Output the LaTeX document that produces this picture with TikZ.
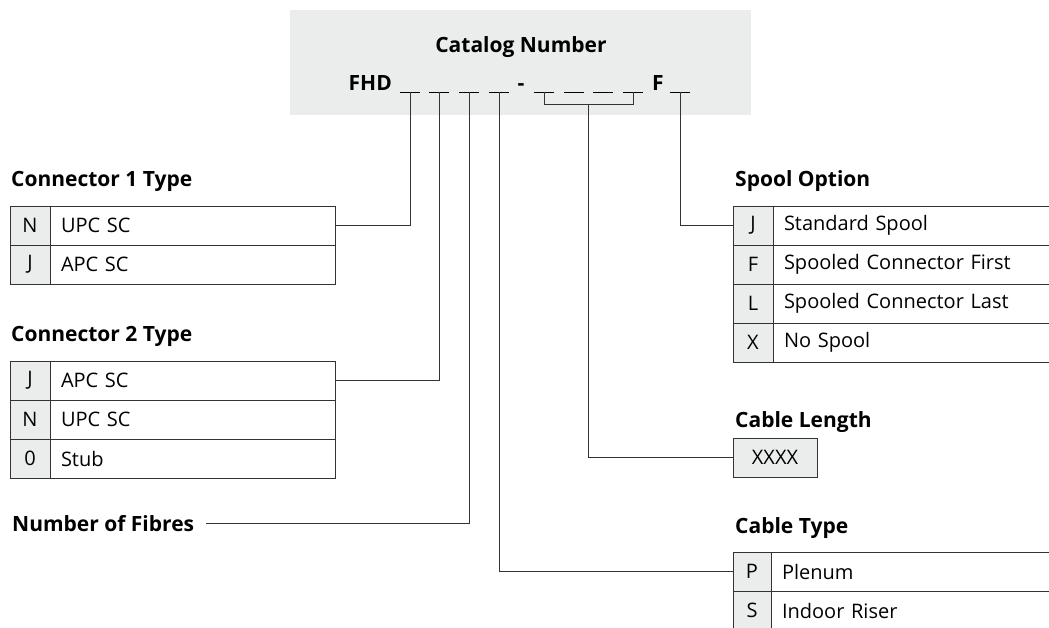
\documentclass[tikz,border=0pt]{standalone}
\usepackage{fontspec}
\setmainfont{Open Sans}
\usetikzlibrary{scopes,chains,calc,positioning}
\definecolor{keygray}{RGB}{235,236,236}
\definecolor{linegray}{RGB}{51,51,51}
\tikzset{
  code schemes/.style = {
    x = 1pt, y = -1pt,
    node distance = 0mm,
    % Ячейки таблиц
    cell/.style = {
      draw=linegray, line width=0.9pt,
      outer sep=0pt, inner sep=0pt,
      minimum height=39pt,
      font=\fontsize{20}{24}\selectfont
    },
    kc/.style      = { cell, fill=keygray, minimum width=40pt, on chain },
    tc/.style      = { cell, inner xsep=11pt, text width=263pt, align=left },
    tc wide/.style = { tc, text width=330pt },
    % Заголовки
    ttl/.style = { font=\bfseries\fontsize{21}{25}\selectfont,
                   inner sep=0pt, anchor=base west },
    hdr/.style = { fill=keygray, minimum width=461pt, minimum height=105pt },
    % Линии
    link line/.style = { line width=0.8pt, draw=linegray },
    blank/.style     = { line width=0.8pt, draw=black },
  }
}

\begin{document}
\begin{tikzpicture}[code schemes]

    \clip (0,0) rectangle (1049,628);

    % Catalog number
    \node [hdr] (cat) at (520.5,62.5) {};
    \node [ttl, anchor=base]      (catnum) at (521,53) {Catalog Number};
    \node [ttl, anchor=base east] (fhd)    at (392,91) {FHD};
    \node [ttl, anchor=base]      (dash)   at (521,91) {-};
    \node [ttl, anchor=base west] (fsuf)   at (652,91) {F};

    { [start chain=conA going below]
        \node [kc, anchor=north west] at (10,206) {N};
        \node [kc] {J};
    }
    \node [tc, right=of conA-1] (conA-t1) {UPC SC};
    \node [tc, right=of conA-2] (conA-t2) {APC SC};
    \node [ttl] at ($(conA-1.north west)+(1,-19)$) {Connector 1 Type};

    { [start chain=conB going below]
        \node [kc, anchor=north west] at (10,361) {J};
        \node [kc] {N};
        \node [kc] {0};
    }
    \node [tc, right=of conB-1] (conB-t1) {APC SC};
    \node [tc, right=of conB-2] (conB-t2) {UPC SC};
    \node [tc, right=of conB-3] (conB-t3) {Stub};
    \node [ttl] at ($(conB-1.north west)+(1,-20)$) {Connector 2 Type};

    \node [ttl, inner xsep=12pt] (fib) at (0,531) {Number of Fibres};

    { [start chain=spool going below]
        \node [kc, anchor=north west] at (733,206) {J};
        \node [kc] {F};
        \node [kc] {L};
        \node [kc] {X};
    }
    \node [tc wide, right=of spool-1] (spool-t1) {Standard Spool};
    \node [tc wide, right=of spool-2] (spool-t2) {Spooled Connector First};
    \node [tc wide, right=of spool-3] (spool-t3) {Spooled Connector Last};
    \node [tc wide, right=of spool-4] (spool-t4) {No Spool};
    \node [ttl] at ($(spool-1.north west)+(2,-19)$) {Spool Option};

    \node [cell, fill=keygray, minimum width=84pt, anchor=north west]
        (len) at (733,438) {XXXX};
    \node [ttl] at ($(len.north west)+(2,-11)$) {Cable Length};

    { [start chain=ctype going below]
        \node [kc, minimum width=38pt, anchor=north west] at (733,552) {P};
        \node [kc, minimum width=38pt] {S};
    }
    \node [tc wide, right=of ctype-1] (ctype-t1) {Plenum};
    \node [tc wide, right=of ctype-2] (ctype-t2) {Indoor Riser};
    \node [ttl] at ($(ctype-1.north west)+(2,-19)$) {Cable Type};

    % blanks of the catalog number
    \foreach \n/\x in {1/410,2/439,3/469,4/499,5/544,6/574,7/603,8/633,9/680} {
        \draw [blank] (\x-10,92.5) -- (\x+10,92.5);
        \coordinate (b\n) at (\x,92.5);
    }

    % connectors
    \draw [link line] (b1) |- (conA-t1.east);
    \draw [link line] (b2) |- (conB-t1.east);
    \draw [link line] (b3) |- (fib);
    \draw [link line] (b4) |- (ctype-1.west);
    \coordinate (brk) at ($(b5)!0.5!(b8)+(0,12)$);
    \draw [link line] (b5) |- (brk) -| (b8);
    \draw [link line] (brk) |- (len.west);
    \draw [link line] (b9) |- (spool-1.west);

\end{tikzpicture}
\end{document}
